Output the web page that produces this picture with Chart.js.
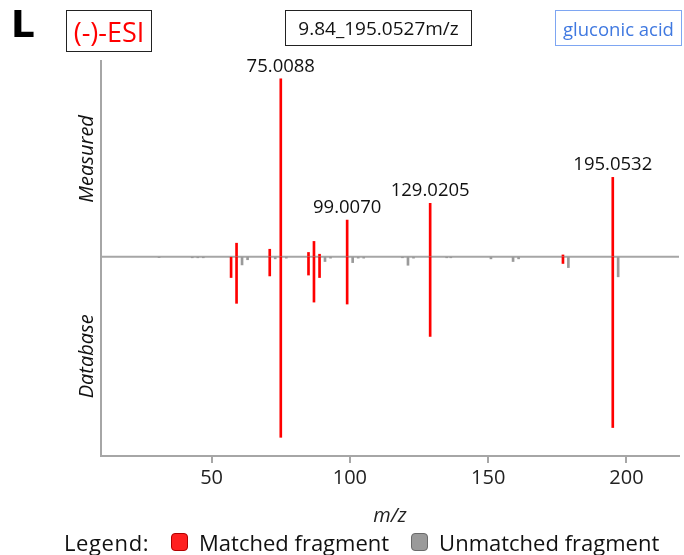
<!DOCTYPE html>
<html>
<head>
<meta charset="utf-8">
<script src="https://cdn.jsdelivr.net/npm/chart.js@4.4.1/dist/chart.umd.min.js"></script>
<style>
  html, body { margin: 0; padding: 0; background: #fff; }
  #wrap { position: relative; width: 684px; height: 555px; font-family: "Open Sans", sans-serif; color: #111; }
  #spectrum { position: absolute; left: 0; top: 0; }
  .hdr { position: absolute; box-sizing: border-box; display: flex; align-items: center; justify-content: center; white-space: nowrap; }
  #panel { left: 11px; top: 3px; font-family: "DejaVu Sans", sans-serif; font-size: 37px; font-weight: 700; color: #000; }
  #mode { left: 66px; top: 10px; width: 86px; height: 42px; border: 1.5px solid #222; color: #ff0000; font-size: 27px; }
  #feature { left: 285px; top: 10px; width: 187px; height: 36px; border: 1.5px solid #222; font-size: 19px; }
  #compound { left: 555px; top: 10px; width: 127px; height: 36px; border: 1px solid #7ea6f2; color: #3f78e0; font-size: 18.5px; }
  #legend { position: absolute; left: 64px; top: 527px; font-size: 22px; display: flex; align-items: center; white-space: nowrap; }
  #legend .sw { display: inline-block; width: 17px; height: 18px; border-radius: 4px; margin: 0 11px 0 0; box-sizing: border-box; }
  #legend .red { background: #ff2020; border: 1px solid #b00000; margin-left: 22px; }
  #legend .gray { background: #9a9a9a; border: 1px solid #6a6a6a; margin-left: 22px; }
  #legend .lead { letter-spacing: 0.6px; }
</style>
</head>
<body>
<div id="wrap">
  <canvas id="spectrum" width="684" height="555"></canvas>
  <div class="hdr" id="panel">L</div>
  <div class="hdr" id="mode">(-)-ESI</div>
  <div class="hdr" id="feature">9.84_195.0527m/z</div>
  <div class="hdr" id="compound">gluconic acid</div>
  <div id="legend">
    <span class="lead">Legend:</span>
    <span class="sw red"></span><span>Matched fragment</span>
    <span class="sw gray"></span><span>Unmatched fragment</span>
  </div>
</div>
<script>
// matched fragments: m/z, measured intensity (up), database intensity (down)
var matchedMz = [57.0346, 59.0139, 71.0139, 75.0088, 85.0295, 87.0088, 89.0244, 99.0070, 129.0205, 177.0400, 195.0532];
var measuredMatched = [0, 7.6, 4.2, 100, 2.4, 8.6, 1.4, 20.6, 30.0, 1.0, 44.6];
var databaseMatched = [11.7, 26.2, 10.8, 101.5, 10.3, 25.5, 11.7, 26.6, 44.8, 3.8, 96.0];

// database-only peaks without a measured partner
var unmatchedMz = [31, 43, 45, 47, 61, 63, 73, 77, 91, 93, 101, 103, 105, 119, 121, 123, 135, 136.5, 151, 159, 161, 179, 197];
var unmatchedDb = [0.5, 0.6, 0.6, 0.6, 4.6, 1.7, 1.2, 0.8, 2.7, 0.8, 3.3, 0.8, 0.8, 0.6, 4.8, 0.8, 0.6, 0.6, 1.2, 2.7, 1.2, 6.1, 11.3];

var labeledMz = [75.0088, 99.0070, 129.0205, 195.0532];
var xTicks = [50, 100, 150, 200];

var RED = '#ff0000';
var GRAY = '#9a9a9a';
var AXIS = '#a6a6a6';
var FONT = '"Open Sans", sans-serif';

function pairs(xs, ys, sign) {
    var out = [];
    for (var i = 0; i < xs.length; i++) {
        if (ys[i] > 0) out.push({ x: xs[i], y: sign * ys[i] });
    }
    return out;
}

// zero line between the two spectra
var baseline = {
    id: 'baseline',
    beforeDatasetsDraw: function(chart) {
        var ctx = chart.ctx, a = chart.chartArea;
        var y0 = chart.scales.y.getPixelForValue(0);
        ctx.save();
        ctx.strokeStyle = AXIS;
        ctx.lineWidth = 2;
        ctx.beginPath();
        ctx.moveTo(a.left, y0);
        ctx.lineTo(a.right, y0);
        ctx.stroke();
        ctx.restore();
    }
};

// m/z labels over the main measured peaks + the two side captions
var annotations = {
    id: 'annotations',
    afterDatasetsDraw: function(chart) {
        var ctx = chart.ctx, a = chart.chartArea;
        var meta = chart.getDatasetMeta(0);
        ctx.save();
        ctx.fillStyle = '#111';
        ctx.font = '18.5px ' + FONT;
        ctx.textAlign = 'center';
        ctx.textBaseline = 'bottom';
        meta.data.forEach(function(bar, i) {
            var raw = chart.data.datasets[0].data[i];
            if (labeledMz.indexOf(raw.x) >= 0) {
                ctx.fillText(raw.x.toFixed(4), bar.x, bar.y - 3);
            }
        });

        var y0 = chart.scales.y.getPixelForValue(0);
        ctx.font = 'italic 20px ' + FONT;
        ctx.textBaseline = 'middle';
        [['Measured', (a.top + y0) / 2], ['Database', (y0 + a.bottom) / 2]].forEach(function(t) {
            ctx.save();
            ctx.translate(a.left - 14, t[1]);
            ctx.rotate(-Math.PI / 2);
            ctx.fillText(t[0], 0, 0);
            ctx.restore();
        });
        ctx.restore();
    }
};

var ctx = document.getElementById('spectrum').getContext('2d');
new Chart(ctx, {
    type: 'bar',
    data: {
        datasets: [{
            label: 'Measured',
            data: pairs(matchedMz, measuredMatched, 1),
            backgroundColor: RED,
            barThickness: 2,
            grouped: false
        }, {
            label: 'Database',
            data: pairs(matchedMz, databaseMatched, -1),
            backgroundColor: RED,
            barThickness: 2,
            grouped: false
        }, {
            label: 'Unmatched',
            data: pairs(unmatchedMz, unmatchedDb, -1),
            backgroundColor: GRAY,
            barThickness: 2,
            grouped: false
        }]
    },
    options: {
        responsive: false,
        animation: false,
        layout: { padding: { left: 101, top: 61, right: 5, bottom: 27 } },
        plugins: {
            legend: { display: false },
            tooltip: { enabled: false }
        },
        scales: {
            x: {
                type: 'linear',
                min: 10,
                max: 219,
                offset: false,
                afterBuildTicks: function(scale) {
                    scale.ticks = xTicks.map(function(v) { return { value: v }; });
                },
                grid: { offset: false, drawOnChartArea: false, drawTicks: true, tickLength: 7, color: AXIS, lineWidth: 2 },
                border: { color: AXIS, width: 2 },
                ticks: { color: '#222', font: { family: FONT, size: 20 }, padding: 3, maxRotation: 0 },
                title: { display: true, text: 'm/z', color: '#222', font: { family: FONT, size: 20, style: 'italic' }, padding: { top: 11, bottom: 0 } }
            },
            y: {
                min: -112,
                max: 110,
                offset: false,
                grid: { drawOnChartArea: false, drawTicks: false },
                border: { color: AXIS, width: 2 },
                ticks: { display: false }
            }
        }
    },
    plugins: [baseline, annotations]
});
</script>
</body>
</html>
